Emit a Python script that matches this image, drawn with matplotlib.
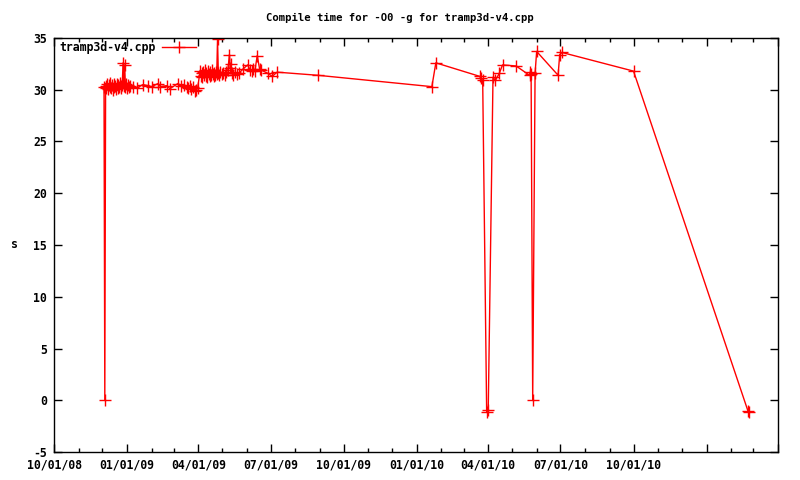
#!/usr/bin/env python3

import pandas as pd
import matplotlib
matplotlib.use('Agg')
import matplotlib.pyplot as plt
import matplotlib.dates as mdates
from matplotlib.ticker import FuncFormatter, MultipleLocator

plt.rcParams['axes.unicode_minus'] = False

# compile times (s)
dates = [
    "2008-12-03", "2008-12-04", "2008-12-05", "2008-12-06", "2008-12-07",
    "2008-12-08", "2008-12-09", "2008-12-10", "2008-12-11", "2008-12-12",
    "2008-12-13", "2008-12-14", "2008-12-15", "2008-12-16", "2008-12-17",
    "2008-12-18", "2008-12-19", "2008-12-20", "2008-12-21", "2008-12-22",
    "2008-12-23", "2008-12-24", "2008-12-25", "2008-12-26", "2008-12-27",
    "2008-12-28", "2008-12-29", "2008-12-30", "2008-12-31", "2009-01-01",
    "2009-01-02", "2009-01-03", "2009-01-05", "2009-01-08", "2009-01-14",
    "2009-01-21", "2009-01-27", "2009-02-01", "2009-02-09", "2009-02-12",
    "2009-02-20", "2009-02-24", "2009-03-06", "2009-03-10", "2009-03-14",
    "2009-03-17", "2009-03-19", "2009-03-21", "2009-03-23", "2009-03-25",
    "2009-03-27", "2009-03-29", "2009-03-31",
    "2009-04-03", "2009-04-04", "2009-04-05", "2009-04-06", "2009-04-07",
    "2009-04-08", "2009-04-09", "2009-04-10", "2009-04-11", "2009-04-12",
    "2009-04-13", "2009-04-14", "2009-04-15", "2009-04-16", "2009-04-17",
    "2009-04-18", "2009-04-19", "2009-04-20", "2009-04-21", "2009-04-22",
    "2009-04-23", "2009-04-24", "2009-04-25", "2009-04-26", "2009-04-27",
    "2009-04-28", "2009-04-30", "2009-05-02", "2009-05-04", "2009-05-06",
    "2009-05-08", "2009-05-10", "2009-05-11", "2009-05-12", "2009-05-13",
    "2009-05-15", "2009-05-17", "2009-05-19", "2009-05-22", "2009-05-27",
    "2009-06-02", "2009-06-05", "2009-06-07", "2009-06-09", "2009-06-11",
    "2009-06-14", "2009-06-17", "2009-06-19", "2009-06-27", "2009-07-03",
    "2009-07-09", "2009-08-29",
    "2010-01-20", "2010-01-25", "2010-03-21", "2010-03-23", "2010-03-25",
    "2010-03-30", "2010-04-01", "2010-04-07", "2010-04-10", "2010-04-15",
    "2010-04-19", "2010-05-06", "2010-05-23", "2010-05-24", "2010-05-25",
    "2010-05-27", "2010-05-30", "2010-06-01", "2010-06-28", "2010-06-30",
    "2010-07-03", "2010-10-01", "2011-02-22", "2011-02-23",
]
times = [
    30.3, 0.0, 30.4, 30.2, 30.6,
    30.1, 30.5, 30.3, 30.7, 30.2,
    30.5, 30.0, 30.6, 30.3, 30.4,
    30.1, 30.6, 30.2, 30.5, 30.3,
    30.7, 30.4, 30.2, 30.5, 32.6,
    30.4, 32.4, 30.3, 30.6, 30.2,
    30.5, 30.3, 30.4, 30.3, 30.2,
    30.5, 30.4, 30.3, 30.6, 30.3,
    30.4, 30.1, 30.6, 30.4, 30.5,
    30.3, 30.2, 30.4, 30.1, 30.3,
    29.9, 30.0, 30.2,
    31.8, 31.3, 31.6, 31.2, 31.7,
    31.4, 31.9, 31.3, 31.6, 31.2,
    31.8, 31.5, 31.3, 31.7, 31.4,
    31.9, 31.5, 31.3, 31.6, 31.4,
    31.7, 31.5, 34.9, 31.6, 31.4,
    31.7, 31.5, 31.6, 31.4, 31.7,
    31.9, 33.4, 32.1, 32.5, 31.6,
    31.4, 31.7, 31.5, 31.6, 32.0,
    32.4, 31.9, 31.8, 32.0, 31.8,
    33.3, 32.0, 31.9, 31.6, 31.3,
    31.7, 31.4,
    30.3, 32.6, 31.3, 31.1, 30.9,
    -1.1, -0.9, 31.2, 30.9, 31.6,
    32.4, 32.3, 31.4, 31.7, 31.5,
    0.0, 31.6, 33.7, 31.4, 33.4,
    33.6, 31.8, -1.0, -1.1,
]
xStart = "2008-10-01"
xEnd = "2011-04-01"
lastLabel = "2010-10-01"

FONT = 'DejaVu Sans Mono'


def plotCompileTime(outFname):
    x = pd.to_datetime(dates)
    fig = plt.figure(figsize=(8, 4.8), dpi=100)
    ax = fig.add_axes([54 / 800, 1 - 452 / 480, 724 / 800, 414 / 480])

    ax.plot(x, times, color='#ff0000', lw=1, marker='+', ms=9, mew=1,
            label='tramp3d-v4.cpp')

    ax.set_xlim(pd.Timestamp(xStart), pd.Timestamp(xEnd))
    ax.set_ylim(-5, 35)
    ax.yaxis.set_major_locator(MultipleLocator(5))
    ax.xaxis.set_major_locator(mdates.MonthLocator(bymonth=(1, 4, 7, 10)))
    ax.xaxis.set_minor_locator(mdates.MonthLocator())
    # gnuplot left the last two labels off
    last = mdates.date2num(pd.Timestamp(lastLabel))
    ax.xaxis.set_major_formatter(FuncFormatter(
        lambda v, pos: mdates.num2date(v).strftime("%m/%d/%y") if v <= last + 1 else ""))

    ax.tick_params(which='both', direction='in', top=True, right=True,
                   color='black', width=1)
    ax.tick_params(which='major', length=6, labelsize=8.3, pad=5)
    ax.tick_params(which='minor', length=3)
    for lbl in ax.get_xticklabels() + ax.get_yticklabels():
        lbl.set_family(FONT)
        lbl.set_weight('bold')
    for sp in ax.spines.values():
        sp.set_linewidth(1)
        sp.set_color('black')

    fig.text(0.5, 1 - 18 / 480, "Compile time for -O0 -g for tramp3d-v4.cpp",
             ha='center', va='center', family=FONT, weight='bold', fontsize=7.6)
    fig.text(14 / 800, 1 - 245 / 480, "s", ha='center', va='center',
             family=FONT, weight='bold', fontsize=8.3)

    ax.legend(loc='upper left', bbox_to_anchor=(-0.004, 1.012), frameon=False,
              markerfirst=False, handlelength=2.9, handletextpad=0.6,
              borderaxespad=0.3, prop={'family': FONT, 'weight': 'bold', 'size': 8.3})

    fig.savefig(outFname)
    print("Figure saved to %s" % outFname)


plotCompileTime("out.png")
